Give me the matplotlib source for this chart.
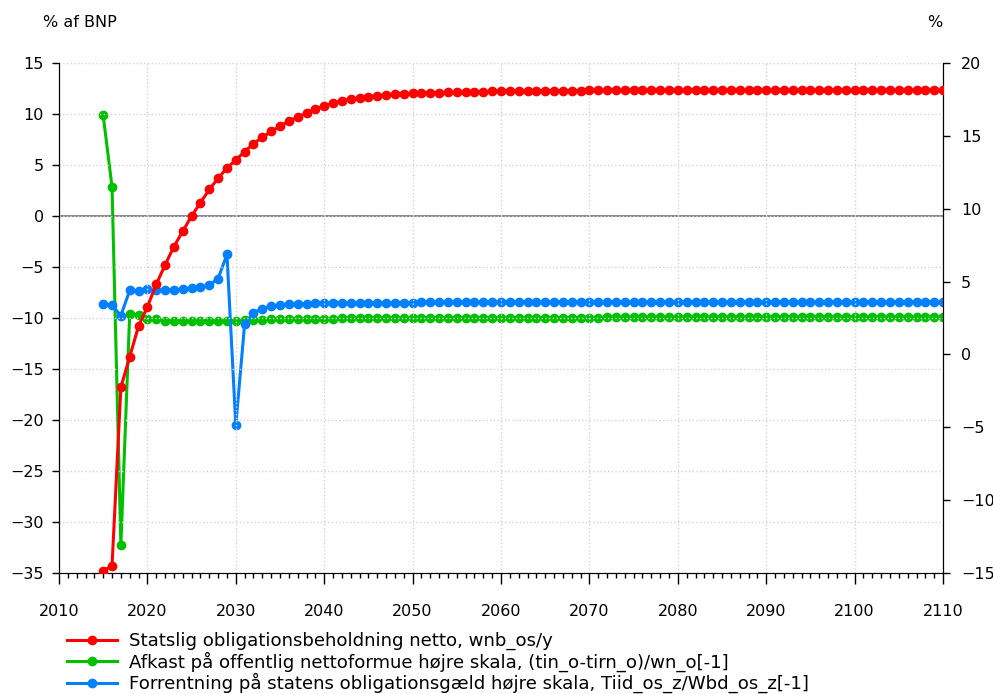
import matplotlib
matplotlib.use('Agg')
import matplotlib.pyplot as plt
from matplotlib.ticker import MultipleLocator

years = list(range(2015, 2111))

# Statslig obligationsbeholdning netto, wnb_os/y (venstre skala, % af BNP)
wnb = [-34.8, -34.3, -16.8, -13.8, -10.8, -8.9, -6.7, -4.8, -3.0, -1.5,
       0.0, 1.3, 2.6, 3.7, 4.7, 5.5, 6.3, 7.1, 7.7, 8.3,
       8.8, 9.3, 9.7, 10.1, 10.5, 10.8, 11.05, 11.3, 11.45, 11.6,
       11.7, 11.8, 11.87, 11.93, 11.98, 12.02, 12.05, 12.08, 12.1, 12.12,
       12.14, 12.16, 12.18, 12.2, 12.21, 12.22, 12.23, 12.24, 12.25, 12.26,
       12.27, 12.28, 12.29, 12.3, 12.3, 12.31, 12.31, 12.32, 12.32, 12.32,
       12.33, 12.33, 12.33, 12.33, 12.33, 12.33, 12.33, 12.33, 12.33, 12.33,
       12.33, 12.33, 12.33, 12.33, 12.33, 12.33, 12.33, 12.33, 12.33, 12.33,
       12.33, 12.33, 12.33, 12.33, 12.33, 12.33, 12.32, 12.32, 12.32, 12.32,
       12.32, 12.32, 12.32, 12.32, 12.32, 12.32]

# Afkast paa offentlig nettoformue (hoejre skala, %)
afkast = [16.4, 11.5, -13.1, 2.8, 2.7, 2.45, 2.4, 2.3, 2.28, 2.27,
          2.27, 2.28, 2.29, 2.3, 2.31, 2.32, 2.34, 2.36, 2.38, 2.4,
          2.41, 2.42, 2.43, 2.44, 2.45, 2.46, 2.46, 2.47, 2.47, 2.48,
          2.48, 2.48, 2.49, 2.49, 2.49, 2.5, 2.5, 2.5, 2.5, 2.51,
          2.51, 2.51, 2.51, 2.51, 2.52, 2.52, 2.52, 2.52, 2.52, 2.52,
          2.53, 2.53, 2.53, 2.53, 2.53, 2.53, 2.53, 2.54, 2.54, 2.54,
          2.54, 2.54, 2.54, 2.54, 2.54, 2.54, 2.55, 2.55, 2.55, 2.55,
          2.55, 2.55, 2.55, 2.55, 2.55, 2.55, 2.55, 2.55, 2.55, 2.56,
          2.56, 2.56, 2.56, 2.56, 2.56, 2.56, 2.56, 2.56, 2.56, 2.56,
          2.56, 2.56, 2.56, 2.56, 2.56, 2.56]

# Forrentning paa statens obligationsgaeld (hoejre skala, %)
forrentning = [3.47, 3.36, 2.67, 4.39, 4.34, 4.46, 4.39, 4.39, 4.44, 4.46,
               4.53, 4.62, 4.76, 5.21, 6.86, -4.87, 2.1, 2.85, 3.15, 3.31,
               3.38, 3.43, 3.47, 3.49, 3.5, 3.52, 3.53, 3.54, 3.54, 3.55,
               3.55, 3.55, 3.56, 3.56, 3.56, 3.56, 3.57, 3.57, 3.57, 3.57,
               3.57, 3.57, 3.57, 3.57, 3.58, 3.58, 3.58, 3.58, 3.58, 3.58,
               3.58, 3.58, 3.58, 3.58, 3.58, 3.58, 3.58, 3.58, 3.58, 3.58,
               3.58, 3.58, 3.58, 3.58, 3.58, 3.58, 3.58, 3.58, 3.58, 3.58,
               3.58, 3.58, 3.58, 3.58, 3.58, 3.58, 3.58, 3.58, 3.58, 3.58,
               3.58, 3.58, 3.58, 3.58, 3.58, 3.58, 3.58, 3.58, 3.58, 3.58,
               3.58, 3.58, 3.58, 3.58, 3.58, 3.58]

plt.rcParams['font.family'] = ['DejaVu Sans']
plt.rcParams['font.size'] = 11.5

fig = plt.figure(figsize=(9.93, 6.94), dpi=100)
ax = fig.add_axes([0.0594, 0.1744, 0.8903, 0.7348])
ax2 = ax.twinx()

ax.set_xlim(2010, 2110)
ax.set_ylim(-35, 15)
ax2.set_ylim(-15, 20)

ax.xaxis.set_major_locator(MultipleLocator(10))
ax.xaxis.set_minor_locator(MultipleLocator(1))
ax.yaxis.set_major_locator(MultipleLocator(5))
ax2.yaxis.set_major_locator(MultipleLocator(5))

ax.grid(True, which='major', color='#d4d4d4', linestyle=':', linewidth=1)
ax.axhline(0, color='#606060', linewidth=1.1, zorder=1)

for a in (ax, ax2):
    a.spines['top'].set_visible(False)
ax.tick_params(axis='x', which='major', length=8, width=1, pad=14)
ax.tick_params(axis='x', which='minor', length=3.5, width=1)
ax.tick_params(axis='y', length=5, width=1, pad=6)
ax2.tick_params(axis='y', length=5, width=1, pad=8)

l1, = ax.plot(years, wnb, color='#ff0000', marker='o', markersize=6, linewidth=2.2,
              label='Statslig obligationsbeholdning netto, wnb_os/y', zorder=4)
l2, = ax2.plot(years, afkast, color='#00c000', marker='o', markersize=6, linewidth=2.2,
               label='Afkast på offentlig nettoformue højre skala, (tin_o-tirn_o)/wn_o[-1]')
l3, = ax2.plot(years, forrentning, color='#0080ff', marker='o', markersize=6, linewidth=2.2,
               label='Forrentning på statens obligationsgæld højre skala, Tiid_os_z/Wbd_os_z[-1]')
ax.set_zorder(ax2.get_zorder() + 1)
ax.patch.set_visible(False)

fig.text(0.043, 0.968, '% af BNP', fontsize=11.5, va='center')
fig.text(0.941, 0.968, '%', fontsize=11.5, va='center', ha='center')

fig.legend(handles=[l1, l2, l3], loc='upper left', bbox_to_anchor=(0.067, 0.089),
           frameon=False, handlelength=2.8, handletextpad=0.62, labelspacing=0.06,
           borderaxespad=0, borderpad=0, fontsize=13.1)

fig.savefig('out.png', dpi=100)
